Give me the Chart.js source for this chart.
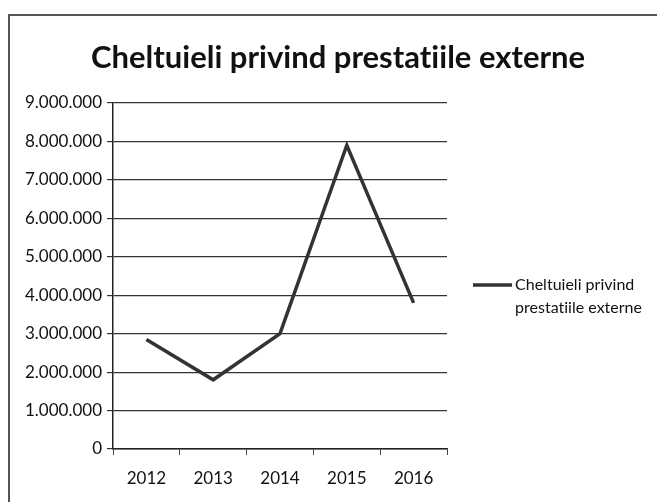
<!DOCTYPE html>
<html>
<head>
<meta charset="utf-8">
<script src="https://cdn.jsdelivr.net/npm/chart.js@4/dist/chart.umd.min.js"></script>
<style>
  html, body { margin: 0; padding: 0; background: #fff; overflow: hidden; }
  #wrap { position: relative; width: 657px; height: 502px; }
  #frame { position: absolute; left: 8px; top: 14px; width: 700px; height: 600px; border: 2px solid #555; }
  canvas { position: absolute; left: 0; top: 0; }
</style>
</head>
<body>
<div id="wrap">
  <div id="frame"></div>
  <canvas id="chart" width="657" height="502"></canvas>
</div>
<script>
/* Cheltuieli privind prestatiile externe - line chart */

const YEARS = ['2012', '2013', '2014', '2015', '2016'];
const CHELTUIELI = [2850000, 1800000, 3000000, 7900000, 3800000];
const SERIES_LABEL = 'Cheltuieli privind prestatiile externe';
const LEGEND_LINES = ['Cheltuieli privind', 'prestatiile externe'];
const TITLE = 'Cheltuieli privind prestatiile externe';

const FONT = 'Lato, "Open Sans", sans-serif';

function fmtDots(v) {
  return String(Math.round(v)).replace(/\B(?=(\d{3})+(?!\d))/g, '.');
}

// Title centred on the whole frame, not only the plot
const frameTitle = {
  id: 'frameTitle',
  afterDraw(chart) {
    const ctx = chart.ctx;
    ctx.save();
    ctx.fillStyle = '#111';
    ctx.font = 'bold 31px ' + FONT;
    ctx.letterSpacing = '0.01px'; // stops the "ti" ligature
    ctx.textAlign = 'center';
    ctx.textBaseline = 'middle';
    ctx.fillText(TITLE, 338, 58);
    ctx.restore();
  }
};

// Simple right-side legend with wrapped text (like Excel)
const sideLegend = {
  id: 'sideLegend',
  afterDraw(chart) {
    const ctx = chart.ctx;
    const ds = chart.data.datasets[0];
    const x0 = 473, y0 = 285;
    ctx.save();
    ctx.strokeStyle = ds.borderColor;
    ctx.lineWidth = ds.borderWidth;
    ctx.beginPath();
    ctx.moveTo(x0, y0);
    ctx.lineTo(x0 + 39, y0);
    ctx.stroke();
    ctx.fillStyle = '#111';
    ctx.font = '16px ' + FONT;
    ctx.letterSpacing = '0.01px';
    ctx.textBaseline = 'middle';
    LEGEND_LINES.forEach((line, i) => ctx.fillText(line, x0 + 42, y0 + i * 23));
    ctx.restore();
  }
};

new Chart(document.getElementById('chart'), {
  type: 'line',
  data: {
    labels: YEARS,
    datasets: [{
      label: SERIES_LABEL,
      data: CHELTUIELI,
      borderColor: '#333',
      borderWidth: 3.5,
      pointRadius: 0,
      tension: 0,
      fill: false
    }]
  },
  plugins: [frameTitle, sideLegend],
  options: {
    responsive: false,
    animation: false,
    layout: { padding: { left: 0, right: 210, top: 103, bottom: 0 } },
    plugins: {
      legend: { display: false },
      tooltip: { enabled: false },
      title: { display: false }
    },
    scales: {
      x: {
        offset: true,
        border: { color: '#222', width: 1.5 },
        grid: { offset: true, drawOnChartArea: false, drawTicks: true, tickLength: 6, color: '#444' },
        ticks: { color: '#111', font: { family: FONT, size: 17 }, padding: 13, maxRotation: 0 },
        afterFit(scale) { scale.height = 53; }
      },
      y: {
        min: 0,
        max: 9000000,
        border: { color: '#222', width: 1.5 },
        grid: { color: '#333', lineWidth: 1.2, tickLength: 6 },
        ticks: {
          stepSize: 1000000,
          color: '#111',
          font: { family: FONT, size: 17 },
          padding: 5,
          callback: (v) => fmtDots(v)
        },
        afterFit(scale) { scale.width = 113; }
      }
    }
  }
});
</script>
</body>
</html>
